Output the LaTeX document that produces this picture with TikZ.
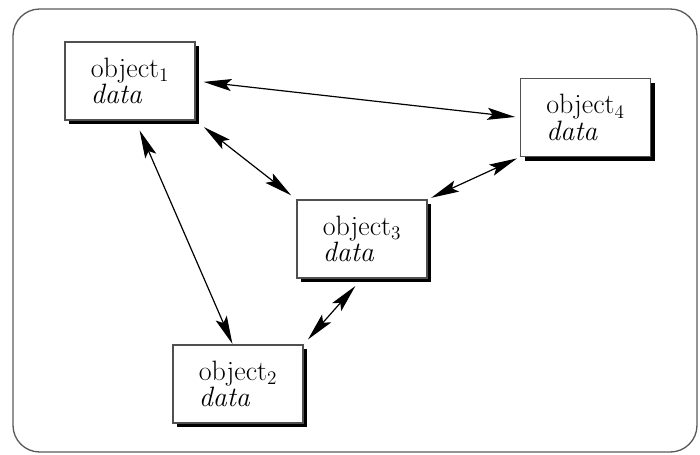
\documentclass[tikz,border=0pt]{standalone}
\usetikzlibrary{arrows.meta,shadows}

\tikzset{
  objbox/.style={draw={rgb, 255:red, 80; green, 80; blue, 80 }, line width=0.8pt, fill=white,
    minimum width=97.5pt, minimum height=58.5pt, inner sep=0pt, align=left,
    font=\fontsize{21}{16}\selectfont,
    drop shadow={shadow xshift=3pt, shadow yshift=-3pt, fill=black, opacity=1}},
  link/.style={line width=0.9pt, {Stealth[length=21pt,width=9pt,inset=4pt]}-{Stealth[length=21pt,width=9pt,inset=4pt]}}
}

\begin{document}
\begin{tikzpicture}[x=0.75pt,y=0.75pt,yscale=-1,xscale=1]
\useasboundingbox (0,0) rectangle (700,454);

%Shape: Rounded Rect [id:frame]
\draw [color={rgb, 255:red, 90; green, 90; blue, 90 }, line width=1pt, rounded corners=20pt] (13,9) rectangle (697,452);

% Text Node
\node [objbox] (o1) at (130,81) {object$_1$\\\textit{data}};
% Text Node
\node [objbox] (o4) at (585.5,117.5) {object$_4$\\\textit{data}};
% Text Node
\node [objbox] (o3) at (362,239) {object$_3$\\\textit{data}};
% Text Node
\node [objbox] (o2) at (238,384) {object$_2$\\\textit{data}};

%Straight Lines
\draw [link, shorten <=6pt, shorten >=3.5pt] (o1.east) -- (o4.west);
%Straight Lines
\draw [link, shorten <=8pt, shorten >=5pt] (o1.south east) -- (o3.north west);
%Straight Lines
\draw [link, shorten <=8pt, shorten >=0.5pt] ([xshift=4pt]o1.south) -- ([xshift=-4pt]o2.north);
%Straight Lines
\draw [link, shorten <=7.5pt, shorten >=5pt] (o3.south) -- (o2.north east);
%Straight Lines
\draw [link, shorten <=3pt, shorten >=2.5pt] (o3.north east) -- (o4.south west);

\end{tikzpicture}
\end{document}
